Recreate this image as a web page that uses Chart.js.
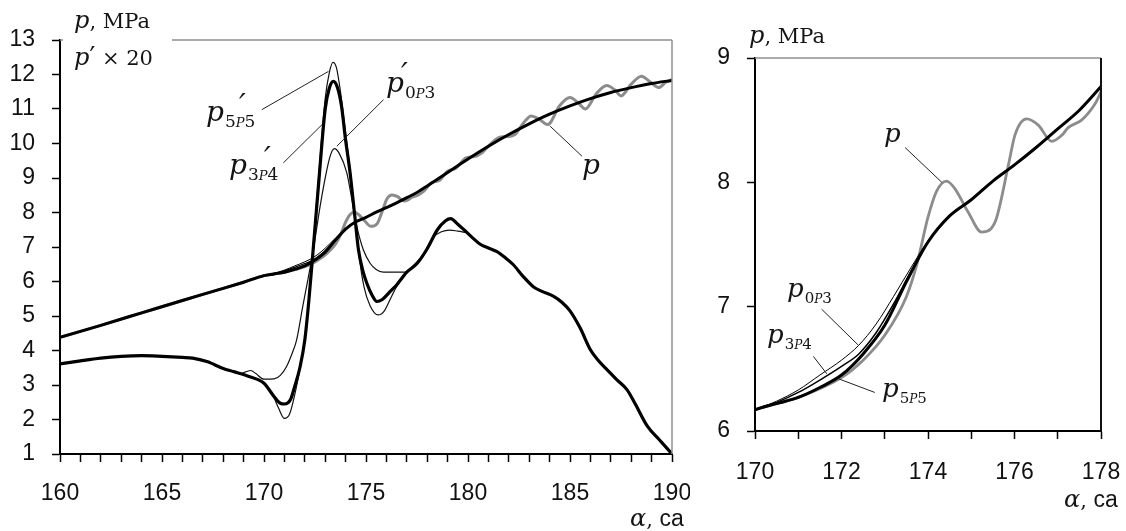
<!DOCTYPE html>
<html>
<head>
<meta charset="utf-8">
<script src="https://cdn.jsdelivr.net/npm/chart.js@4.4.1/dist/chart.umd.min.js"></script>
<style>
  html, body { margin: 0; padding: 0; background: #fff; }
  body { width: 1126px; height: 531px; position: relative; overflow: hidden; }
  .box { position: absolute; top: 0; height: 531px; }
  #leftBox { left: 0; width: 690px; }
  #rightBox { left: 700px; width: 426px; }
  .lbl { position: absolute; font-family: "DejaVu Serif", "Liberation Serif", serif; line-height: 1; white-space: nowrap; color: #141414; }
  .lbl i { font-style: italic; }
  .rm { font-size: 21px; }
  .sans { font-family: "Liberation Sans", Arial, sans-serif; }
  .sub { font-size: 17px; position: relative; top: 6px; margin-left: 1px; }
  .small .sub { font-size: 15px; }
  .cp { font-size: 13px; font-style: italic; }
  .small .cp { font-size: 12px; }
  .pr { position: absolute; font-size: 30px; font-style: italic; }
  .mask { position: absolute; background: #fff; }
</style>
</head>
<body>
<div class="box" id="leftBox"><canvas id="leftChart" width="690" height="531"></canvas></div>
<div class="box" id="rightBox"><canvas id="rightChart" width="426" height="531"></canvas></div>

<!-- left chart texts -->
<div class="mask" style="left:63px;top:28px;width:109px;height:44px"></div>
<div class="lbl" style="left:74px;top:8px;font-size:24px"><i>p</i><span class="rm">, MPa</span></div>
<div class="lbl" style="left:74px;top:43px;font-size:24px"><i>p</i><span style="font-size:26px">′</span><span class="rm"> × 20</span></div>
<div class="lbl" style="left:206px;top:98px;font-size:28px"><i>p</i><span class="sub">5<span class="cp">P</span>5</span><span class="pr" style="left:33px;top:-8px">′</span></div>
<div class="lbl" style="left:229px;top:151px;font-size:28px"><i>p</i><span class="sub">3<span class="cp">P</span>4</span><span class="pr" style="left:35px;top:-8px">′</span></div>
<div class="lbl" style="left:386px;top:69px;font-size:28px"><i>p</i><span class="sub">0<span class="cp">P</span>3</span><span class="pr" style="left:15px;top:-10px">′</span></div>
<div class="lbl" style="left:582px;top:151px;font-size:28px"><i>p</i></div>
<div class="lbl" style="left:630px;top:506px;font-size:24px"><i>α</i><span class="rm">, </span><span class="sans" style="font-size:23px">ca</span></div>

<!-- right chart texts -->
<div class="lbl" style="left:749px;top:23px;font-size:24px"><i>p</i><span class="rm">, MPa</span></div>
<div class="lbl small" style="left:884px;top:120px;font-size:26px"><i>p</i></div>
<div class="lbl small" style="left:787px;top:275px;font-size:26px"><i>p</i><span class="sub">0<span class="cp">P</span>3</span></div>
<div class="lbl small" style="left:767px;top:321px;font-size:26px"><i>p</i><span class="sub">3<span class="cp">P</span>4</span></div>
<div class="lbl small" style="left:882px;top:375px;font-size:26px"><i>p</i><span class="sub">5<span class="cp">P</span>5</span></div>
<div class="lbl" style="left:1064px;top:487px;font-size:24px"><i>α</i><span class="rm">, </span><span class="sans" style="font-size:23px">ca</span></div>

<script>
// ---------------------------------------------------------
// Data (crank angle α in degrees, pressure in MPa, p' scaled ×20)
// ---------------------------------------------------------
// smoothed pressure p5P5 (also the thick line in the left plot)
const ALPHA_SMOOTH = [160, 162, 164, 166, 168, 169, 170, 170.5, 171, 171.5, 172, 172.5, 173, 173.5, 174, 174.5, 175, 175.5, 176, 176.5, 177, 177.5, 178, 179, 180, 181, 182, 183, 184, 185, 186, 187, 188, 189, 190];
const P_5P5 = [4.38, 4.73, 5.09, 5.45, 5.80, 5.98, 6.17, 6.22, 6.27, 6.35, 6.45, 6.62, 6.85, 7.20, 7.52, 7.73, 7.86, 8.01, 8.14, 8.28, 8.43, 8.58, 8.77, 9.16, 9.55, 9.92, 10.26, 10.57, 10.85, 11.09, 11.30, 11.48, 11.62, 11.74, 11.83];

// other smoothings, only where they part from p5P5
const ALPHA_ALT = [169, 170, 170.5, 171, 171.5, 172, 172.4, 172.8, 173.2, 173.6, 174, 174.5, 175, 175.5, 176];
const P_3P4 = [5.98, 6.17, 6.23, 6.31, 6.41, 6.52, 6.62, 6.79, 7.02, 7.28, 7.52, 7.73, 7.86, 8.01, 8.14];
const P_0P3 = [5.98, 6.17, 6.24, 6.33, 6.45, 6.57, 6.69, 6.86, 7.08, 7.31, 7.53, 7.73, 7.86, 8.01, 8.14];

// measured pressure p (grey, oscillating)
const ALPHA_RAW = [160, 162, 164, 166, 168, 169, 170, 171, 172, 172.5, 173, 173.5, 173.75, 174, 174.2, 174.43, 174.62, 174.93, 175.24, 175.55, 175.86, 176.01, 176.28, 176.55, 176.86, 177.1, 177.24, 177.55, 177.86, 178.2, 178.6, 179, 179.4, 179.9, 180.3, 180.7, 181.1, 181.5, 181.9, 182.3, 182.7, 183.1, 183.5, 183.9, 184.5, 185, 185.4, 185.75, 186.3, 186.8, 187.2, 187.5, 188, 188.5, 188.9, 189.35, 189.7, 190];
const P_RAW = [4.38, 4.73, 5.09, 5.45, 5.80, 5.98, 6.17, 6.27, 6.43, 6.57, 6.77, 7.08, 7.35, 7.72, 7.93, 8.01, 7.95, 7.76, 7.60, 7.68, 8.14, 8.38, 8.51, 8.46, 8.33, 8.38, 8.44, 8.50, 8.63, 8.86, 8.93, 9.20, 9.28, 9.58, 9.62, 9.74, 9.98, 10.17, 10.20, 10.26, 10.58, 10.80, 10.70, 10.55, 11.10, 11.33, 11.18, 11.00, 11.45, 11.68, 11.55, 11.38, 11.72, 11.95, 11.80, 11.62, 11.78, 11.85];

// pressure rise rate p' ×20
const ALPHA_D3P4 = [160, 161, 162, 163, 164, 165, 166, 166.5, 167.2, 168, 168.5, 169.3, 170, 170.5, 170.8, 171, 171.3, 171.5, 171.77, 172, 172.2, 172.4, 172.7, 173, 173.2, 173.4, 173.6, 173.8, 174, 174.22, 174.45, 174.63, 174.85, 175.04, 175.3, 175.53, 175.8, 176.2, 176.5, 177, 177.5, 178, 178.5, 178.9, 179.15, 179.5, 179.8, 180.2, 180.6, 181, 181.4, 181.8, 182.2, 182.7, 183.2, 183.6, 184.2, 184.6, 185, 185.5, 186, 186.4, 186.8, 187.3, 187.8, 188.2, 188.8, 189.4, 190];
const D_3P4 = [3.61, 3.70, 3.78, 3.83, 3.85, 3.83, 3.80, 3.78, 3.68, 3.48, 3.39, 3.24, 3.05, 2.66, 2.47, 2.45, 2.58, 2.95, 3.53, 4.30, 5.45, 6.85, 9.00, 11.00, 11.60, 11.80, 11.62, 11.08, 10.10, 9.15, 7.90, 6.92, 6.30, 5.95, 5.60, 5.42, 5.48, 5.72, 5.90, 6.27, 6.52, 6.95, 7.50, 7.76, 7.82, 7.66, 7.50, 7.28, 7.08, 6.97, 6.87, 6.70, 6.50, 6.15, 5.85, 5.72, 5.57, 5.40, 5.15, 4.65, 4.02, 3.70, 3.45, 3.15, 2.86, 2.45, 1.80, 1.40, 1.00];

const ALPHA_D5P5 = [169.3, 170, 170.4, 170.7, 171, 171.25, 171.5, 171.77, 172, 172.2, 172.4, 172.7, 173, 173.2, 173.38, 173.55, 173.75, 174, 174.22, 174.45, 174.65, 174.9, 175.2, 175.6, 175.9, 176.2, 176.5, 177];
const D_5P5 = [3.24, 3.06, 2.75, 2.35, 2.03, 2.15, 2.70, 3.50, 4.35, 5.50, 6.95, 9.20, 11.30, 12.05, 12.35, 12.20, 11.50, 10.30, 9.25, 7.95, 6.80, 5.85, 5.30, 5.03, 5.15, 5.50, 5.85, 6.27];

const ALPHA_D0P3 = [168.8, 169.1, 169.35, 169.6, 170, 170.5, 170.8, 171.1, 171.4, 171.6, 171.9, 172.15, 172.42, 172.75, 173.05, 173.25, 173.45, 173.7, 174.06, 174.3, 174.55, 174.87, 175.2, 175.5, 175.85, 176.4, 176.84, 177, 177.3, 177.8, 178.3, 178.7, 179.1, 179.5, 179.9];
const D_0P3 = [3.31, 3.38, 3.42, 3.33, 3.17, 3.18, 3.28, 3.53, 3.95, 4.31, 5.28, 6.05, 6.92, 8.18, 9.15, 9.65, 9.85, 9.70, 9.15, 8.40, 7.60, 6.92, 6.53, 6.35, 6.27, 6.27, 6.27, 6.28, 6.45, 6.77, 7.28, 7.44, 7.49, 7.46, 7.42];

// tick labels
const LEFT_X_LABELS = [160, 165, 170, 175, 180, 185, 190];
const LEFT_Y_LABELS = [1, 2, 3, 4, 5, 6, 7, 8, 9, 10, 11, 12, 13];
const RIGHT_X_LABELS = [170, 172, 174, 176, 178];
const RIGHT_Y_LABELS = [6, 7, 8, 9];

// leader lines from the curve names: [α1, y1, α2, y2]
const LEFT_LEADERS = [[169.89, 10.98, 173.16, 12.09], [170.95, 9.44, 172.85, 10.55], [175.86, 11.27, 173.57, 9.92], [185.59, 9.63, 184.03, 10.5]];
const RIGHT_LEADERS = [[173.47, 8.28, 174.32, 8.0], [171.54, 6.98, 172.39, 6.69], [171.35, 6.6, 171.66, 6.46], [172.77, 6.31, 171.93, 6.42]];

// ---------------------------------------------------------
// Helpers
// ---------------------------------------------------------
const toPts = (xs, ys) => xs.map((x, i) => ({ x, y: ys[i] }));

Chart.defaults.font.family = '"Liberation Sans", Arial, sans-serif';
Chart.defaults.font.size = 23;
Chart.defaults.color = "#111";

const leaderPlugin = {
	id: "leaders",
	afterDatasetsDraw(chart, args, opts) {
		const { ctx, scales } = chart;
		ctx.save();
		ctx.strokeStyle = "#222";
		ctx.lineWidth = 1;
		for (const [x1, y1, x2, y2] of opts.lines || []) {
			ctx.beginPath();
			ctx.moveTo(scales.x.getPixelForValue(x1), scales.y.getPixelForValue(y1));
			ctx.lineTo(scales.x.getPixelForValue(x2), scales.y.getPixelForValue(y2));
			ctx.stroke();
		}
		ctx.restore();
	},
};

// grey top edge and the right edge of the plot box
const framePlugin = {
	id: "frame",
	afterDraw(chart, args, opts) {
		const { ctx, chartArea } = chart;
		ctx.save();
		ctx.lineWidth = 1.5;
		ctx.strokeStyle = "#8f8f8f";
		ctx.beginPath();
		ctx.moveTo(chartArea.left, chartArea.top);
		ctx.lineTo(chartArea.right, chartArea.top);
		ctx.stroke();
		ctx.strokeStyle = opts.rightColor;
		ctx.lineWidth = opts.rightWidth;
		ctx.beginPath();
		ctx.moveTo(chartArea.right, chartArea.top);
		ctx.lineTo(chartArea.right, chartArea.bottom);
		ctx.stroke();
		ctx.restore();
	},
};

const line = (data, width, color, order) => ({
	data,
	borderColor: color,
	borderWidth: width,
	order,
	pointRadius: 0,
	cubicInterpolationMode: "monotone",
	borderCapStyle: "round",
	borderJoinStyle: "round",
	fill: false,
});

const axisX = (min, max, labels, height, pad) => ({
	type: "linear",
	min,
	max,
	border: { display: true, color: "#000", width: 2 },
	grid: { drawOnChartArea: false, drawTicks: true, tickLength: 8, tickColor: "#000", tickWidth: 1.5 },
	ticks: {
		stepSize: 1,
		autoSkip: false,
		maxRotation: 0,
		padding: pad,
		callback: (v) => (labels.includes(v) ? String(v) : ""),
	},
	afterFit: (scale) => {
		scale.height = height;
		scale.paddingLeft = 0;
		scale.paddingRight = 0;
	},
});

const axisY = (min, max, labels, width) => ({
	min,
	max,
	border: { display: true, color: "#000", width: 2 },
	grid: { drawOnChartArea: false, drawTicks: true, tickLength: 8, tickColor: "#000", tickWidth: 1.5 },
	ticks: {
		stepSize: 1,
		autoSkip: false,
		padding: 17,
		callback: (v) => (labels.includes(v) ? String(v) : ""),
	},
	afterFit: (scale) => {
		scale.width = width;
	},
});

// ---------------------------------------------------------
// Left chart: p and p' ×20
// ---------------------------------------------------------
new Chart(document.getElementById("leftChart"), {
	type: "line",
	data: {
		datasets: [
			line(toPts(ALPHA_RAW, P_RAW), 3, "#8c8c8c", 6),
			line(toPts(ALPHA_ALT, P_0P3), 1, "#000", 3),
			line(toPts(ALPHA_ALT, P_3P4), 1.2, "#000", 3),
			line(toPts(ALPHA_SMOOTH, P_5P5), 3, "#000", 1),
			line(toPts(ALPHA_D0P3, D_0P3), 1.2, "#111", 2),
			line(toPts(ALPHA_D5P5, D_5P5), 1.2, "#111", 2),
			line(toPts(ALPHA_D3P4, D_3P4), 3.2, "#000", 1),
		],
	},
	options: {
		responsive: false,
		animation: false,
		events: [],
		layout: { padding: { left: 0, right: 18, top: 40, bottom: 0 } },
		scales: {
			x: axisX(160, 190, LEFT_X_LABELS, 77, 18),
			y: axisY(1, 13, LEFT_Y_LABELS, 60),
		},
		plugins: {
			legend: { display: false },
			tooltip: { enabled: false },
			leaders: { lines: LEFT_LEADERS },
			frame: { rightColor: "#8f8f8f", rightWidth: 1.5 },
		},
	},
	plugins: [leaderPlugin, framePlugin],
});

// ---------------------------------------------------------
// Right chart: zoom on p, 170..178
// ---------------------------------------------------------
new Chart(document.getElementById("rightChart"), {
	type: "line",
	data: {
		datasets: [
			line(toPts(ALPHA_RAW, P_RAW), 2.8, "#8c8c8c", 6),
			line(toPts(ALPHA_ALT, P_0P3), 1, "#000", 3),
			line(toPts(ALPHA_ALT, P_3P4), 1.5, "#000", 2),
			line(toPts(ALPHA_SMOOTH, P_5P5), 3, "#000", 1),
		],
	},
	options: {
		responsive: false,
		animation: false,
		events: [],
		layout: { padding: { left: 0, right: 25, top: 58, bottom: 0 } },
		scales: {
			x: axisX(170, 178, RIGHT_X_LABELS, 100, 20),
			y: axisY(6, 9, RIGHT_Y_LABELS, 55),
		},
		plugins: {
			legend: { display: false },
			tooltip: { enabled: false },
			leaders: { lines: RIGHT_LEADERS },
			frame: { rightColor: "#111", rightWidth: 2 },
		},
	},
	plugins: [leaderPlugin, framePlugin],
});
</script>
</body>
</html>
